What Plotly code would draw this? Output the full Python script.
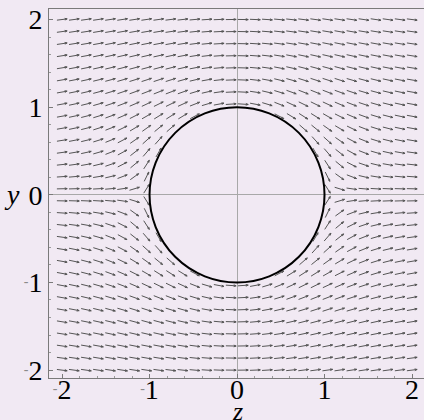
import numpy as np
import plotly.graph_objects as go
import plotly.figure_factory as ff

# ---- data ----
grid_n = 30                      # arrows per row / column
grid_lo, grid_hi = -2.0, 2.0     # sampled region (z and y)
U_inf = 1.0                      # free-stream speed
cyl_radius = 1.0                 # cylinder radius
tick_vals = [-2, -1, 0, 1, 2]
minus = "<span style='font-size:14px;color:#8a8a8a;baseline-shift:6px'>-</span>"
tick_text = [minus + "2", minus + "1", "0", "1", "2"]

# ---- field: uniform flow past a cylinder ----
zs = np.linspace(grid_lo, grid_hi, grid_n)
ys = np.linspace(grid_lo, grid_hi, grid_n)
Z, Y = np.meshgrid(zs, ys)
R2 = Z**2 + Y**2
U = U_inf * (1 - cyl_radius**2 * (Z**2 - Y**2) / R2**2)
V = U_inf * (-2 * cyl_radius**2 * Z * Y / R2**2)
mask = R2 >= cyl_radius**2
Z, Y, U, V = Z[mask], Y[mask], U[mask], V[mask]
spd = np.hypot(U, V)
L = 0.118
u = U / spd * L
v = V / spd * L

q = ff.create_quiver(Z - u / 2, Y - v / 2, u, v, scale=1, arrow_scale=0.25,
                     angle=np.pi / 9, line=dict(color="#555555", width=1))

fig = go.Figure()
for tr in q.data:
    tr.showlegend = False
    tr.hoverinfo = "skip"
    fig.add_trace(tr)

fig.add_shape(type="circle", xref="x", yref="y", x0=-cyl_radius, y0=-cyl_radius,
              x1=cyl_radius, y1=cyl_radius, line=dict(color="black", width=2))

bg = "#F1E9F3"
font = dict(family="Liberation Serif", size=28, color="black")
label_font = dict(family="Liberation Serif", size=26, color="black")
axis_common = dict(
    showgrid=False, zeroline=True, zerolinecolor="#a8a8a8", zerolinewidth=1,
    showline=True, linecolor="#7a7a7a", linewidth=1, mirror=True,
    ticks="inside", ticklen=4, tickcolor="#7a7a7a",
    tickvals=tick_vals, ticktext=tick_text, tickfont=font,
    minor=dict(ticks="inside", ticklen=2, dtick=0.2, tickcolor="#9a9a9a"),
    automargin=False,
)
fig.update_layout(
    width=424, height=420,
    margin=dict(l=49, r=0, t=9, b=42),
    paper_bgcolor=bg, plot_bgcolor=bg,
    xaxis=dict(range=[-2.149, 2.137], ticklabelstandoff=-14, **axis_common),
    yaxis=dict(range=[-2.09, 2.12], ticklabelstandoff=0, **axis_common),
    showlegend=False,
)
fig.add_annotation(text="<i>y</i>", xref="paper", yref="y", x=-0.098, y=0,
                   showarrow=False, font=font, xanchor="center", yanchor="middle")
fig.add_annotation(text="<i>z</i>", xref="x", yref="paper", x=0, y=-0.092,
                   showarrow=False, font=label_font, xanchor="center", yanchor="middle")

fig.write_html("out.html", config={"displayModeBar": False},
               post_script="document.body.style.margin='0';document.body.style.background='%s';" % bg)
